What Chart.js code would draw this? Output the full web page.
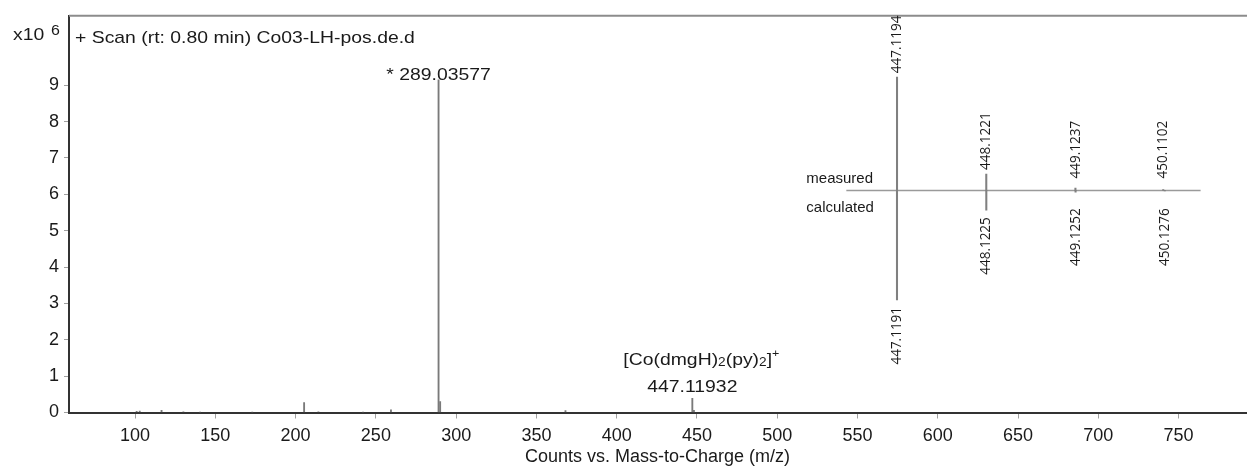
<!DOCTYPE html>
<html>
<head>
<meta charset="utf-8">
<script src="https://cdn.jsdelivr.net/npm/chart.js@4.4.1/dist/chart.umd.min.js"></script>
<style>
  html, body { margin: 0; padding: 0; background: #fff; }
</style>
</head>
<body>
<canvas id="chart" width="1247" height="471"></canvas>
<script>
// main spectrum, counts in units of 10^6
const peakMz = [101.0, 102.9, 116.5, 130.1, 140.5, 173.0, 205.3, 214.2, 242.0, 259.4, 289.04, 290.04, 368.1, 447.12, 448.12];
const peakCounts = [0.03, 0.04, 0.06, 0.02, 0.01, 0.01, 0.27, 0.02, 0.01, 0.07, 9.15, 0.3, 0.05, 0.39, 0.06];
const xTicks = [100, 150, 200, 250, 300, 350, 400, 450, 500, 550, 600, 650, 700, 750];
const yTicks = [0, 1, 2, 3, 4, 5, 6, 7, 8, 9];

// inset: isotope pattern, measured (up) vs calculated (down), relative intensity
const isoMeasuredMz = [447.1194, 448.1221, 449.1237, 450.1102];
const isoMeasuredInt = [100, 14.5, 2, 0.8];
const isoCalcMz = [447.1191, 448.1225, 449.1252, 450.1276];
const isoCalcInt = [-96.8, -17.5, -1.5, -0.5];
const isoBaseline = [446.55, 450.53];

const scanTitle = '+ Scan (rt: 0.80 min) Co03-LH-pos.de.d';
const basePeak = { mz: 289.04, text: '* 289.03577' };
const complexPeak = { mz: 447.12, text: '447.11932' };

const SANS = '"Liberation Sans", Arial, sans-serif';
const INK = '#1a1a1a';

// draws text stretched horizontally by sx, returns drawn width
function wideText(ctx, str, x, y, size, sx, align) {
  ctx.save();
  ctx.font = size + 'px ' + SANS;
  const w = ctx.measureText(str).width * sx;
  const left = align === 'center' ? x - w / 2 : x;
  ctx.translate(left, y);
  ctx.scale(sx, 1);
  ctx.textAlign = 'left';
  ctx.textBaseline = 'alphabetic';
  ctx.fillText(str, 0, 0);
  ctx.restore();
  return w;
}

function vertLabel(ctx, str, x, y, upward) {
  ctx.save();
  ctx.translate(x, y);
  ctx.scale(1.08, 1);
  ctx.rotate(-Math.PI / 2);
  ctx.font = '13.5px "Open Sans", sans-serif';
  ctx.textBaseline = 'middle';
  ctx.textAlign = upward ? 'left' : 'right';
  ctx.fillText(str, 0, 0);
  ctx.restore();
}

const annotations = {
  id: 'annotations',
  afterDraw(chart) {
    const { ctx, chartArea: ca, scales } = chart;
    const xs = scales.x, ys = scales.y, x2 = scales.x2, y2 = scales.y2;
    ctx.save();

    // top frame line
    ctx.strokeStyle = '#8c8c8c';
    ctx.lineWidth = 2;
    ctx.beginPath();
    ctx.moveTo(ca.left, ca.top);
    ctx.lineTo(chart.width, ca.top);
    ctx.stroke();

    ctx.fillStyle = INK;
    // exponent label
    wideText(ctx, 'x10', 13, 40, 17, 1.14, 'left');
    wideText(ctx, '6', 51, 35, 14, 1.14, 'left');
    // scan title
    wideText(ctx, scanTitle, ca.left + 6, ca.top + 27.5, 17, 1.14, 'left');

    // base peak label
    const bpx = xs.getPixelForValue(basePeak.mz);
    const bpy = ys.getPixelForValue(peakCounts[peakMz.indexOf(basePeak.mz)]);
    wideText(ctx, basePeak.text, bpx, bpy, 17, 1.14, 'center');

    // complex peak label
    const cpx = xs.getPixelForValue(complexPeak.mz);
    const cpy = ys.getPixelForValue(peakCounts[peakMz.indexOf(complexPeak.mz)]);
    wideText(ctx, complexPeak.text, cpx, cpy - 6, 17, 1.14, 'center');
    const runs = [
      { t: '[Co(dmgH)', size: 17, dy: 0 },
      { t: '2', size: 12, dy: 1 },
      { t: '(py)', size: 17, dy: 0 },
      { t: '2', size: 12, dy: 1 },
      { t: ']', size: 17, dy: 0 },
      { t: '+', size: 11, dy: -8 }
    ];
    let fx = cpx - 69;
    const fy = cpy - 33;
    runs.forEach(r => { fx += wideText(ctx, r.t, fx, fy + r.dy, r.size, 1.14, 'left'); });

    // inset labels
    const zeroY = y2.getPixelForValue(0);
    const insetLeft = x2.getPixelForValue(isoBaseline[0]);
    ctx.font = '15px ' + SANS;
    ctx.textAlign = 'left';
    ctx.textBaseline = 'alphabetic';
    ctx.fillText('measured', insetLeft - 40, zeroY - 7);
    ctx.fillText('calculated', insetLeft - 40, zeroY + 22);

    isoMeasuredMz.forEach((m, i) => {
      const px = x2.getPixelForValue(m);
      const top = y2.getPixelForValue(isoMeasuredInt[i]);
      vertLabel(ctx, m.toFixed(4), px, Math.min(top - 4, zeroY - 12), true);
    });
    isoCalcMz.forEach((m, i) => {
      const px = x2.getPixelForValue(m);
      const bot = y2.getPixelForValue(isoCalcInt[i]);
      vertLabel(ctx, m.toFixed(4), px, Math.max(bot + 7, zeroY + 18), false);
    });
    ctx.restore();
  }
};

const tickFont = { family: SANS, size: 18 };

new Chart(document.getElementById('chart'), {
  type: 'bar',
  data: {
    datasets: [
      {
        data: peakMz.map((m, i) => ({ x: m, y: peakCounts[i] })),
        backgroundColor: '#7a7a7a',
        barThickness: 1.2,
        grouped: false,
        xAxisID: 'x',
        yAxisID: 'y'
      },
      {
        data: isoMeasuredMz.map((m, i) => ({ x: m, y: isoMeasuredInt[i] })),
        backgroundColor: '#808080',
        barThickness: 1.4,
        grouped: false,
        xAxisID: 'x2',
        yAxisID: 'y2'
      },
      {
        data: isoCalcMz.map((m, i) => ({ x: m, y: isoCalcInt[i] })),
        backgroundColor: '#808080',
        barThickness: 1.4,
        grouped: false,
        xAxisID: 'x2',
        yAxisID: 'y2'
      },
      {
        type: 'line',
        data: isoBaseline.map(m => ({ x: m, y: 0 })),
        borderColor: '#9a9a9a',
        borderWidth: 1.5,
        pointRadius: 0,
        xAxisID: 'x2',
        yAxisID: 'y2'
      }
    ]
  },
  options: {
    responsive: false,
    devicePixelRatio: 1,
    animation: false,
    layout: { padding: { top: 12, right: 1, left: 0, bottom: 0 } },
    plugins: { legend: { display: false }, tooltip: { enabled: false } },
    scales: {
      x: {
        type: 'linear',
        position: 'bottom',
        min: 58.85,
        max: 792,
        offset: false,
        afterBuildTicks: s => { s.ticks = xTicks.map(v => ({ value: v })); },
        afterFit: s => { s.height = 58.5; },
        ticks: { autoSkip: false, maxRotation: 0, padding: 7, color: INK, font: tickFont, callback: v => String(v) },
        grid: { display: true, drawOnChartArea: false, drawTicks: true, tickLength: 6, color: '#a0a0a0', offset: false },
        border: { display: true, color: '#333', width: 2 },
        title: {
          display: true,
          text: 'Counts vs. Mass-to-Charge (m/z)',
          color: INK,
          font: { family: SANS, size: 18 },
          padding: { top: 0, bottom: 3 }
        }
      },
      y: {
        type: 'linear',
        position: 'left',
        min: 0,
        max: 10.91,
        afterBuildTicks: s => { s.ticks = yTicks.map(v => ({ value: v })); },
        afterFit: s => { s.width = 69; },
        ticks: { padding: 5, color: INK, font: tickFont, callback: v => String(v) },
        grid: { display: true, drawOnChartArea: false, drawTicks: true, tickLength: 5, color: '#a0a0a0' },
        border: { display: true, color: '#333', width: 2 }
      },
      x2: { type: 'linear', display: false, min: 437.817, max: 451.04, offset: false },
      y2: { type: 'linear', display: false, min: -196.2, max: 154.2 }
    }
  },
  plugins: [annotations]
});
</script>
</body>
</html>
